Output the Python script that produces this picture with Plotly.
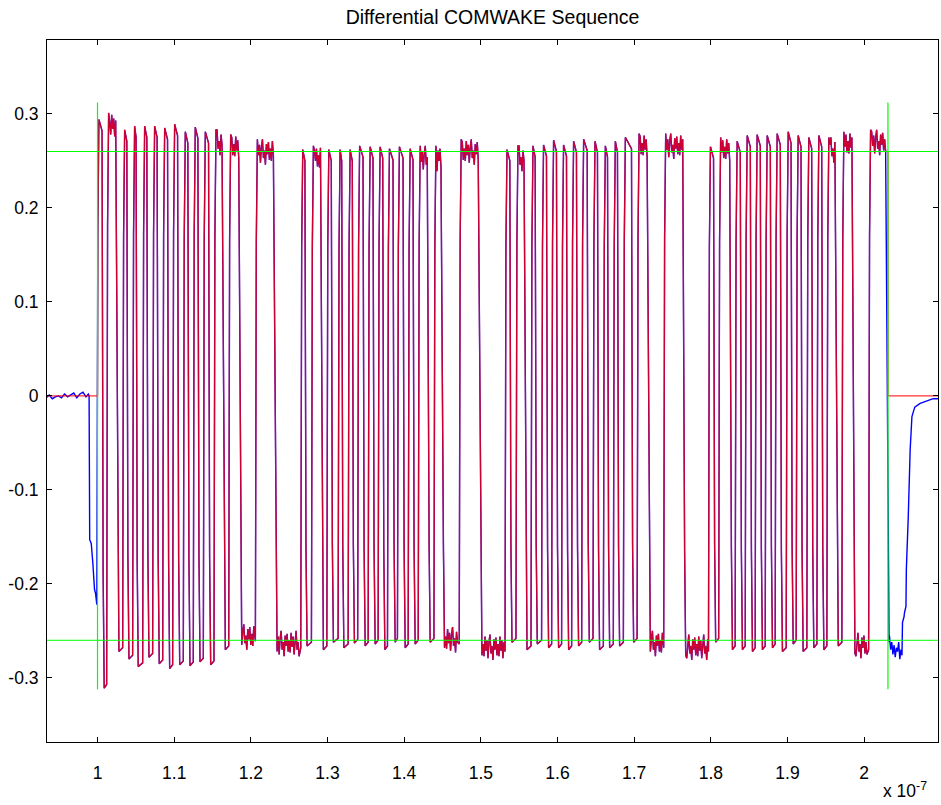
import plotly.graph_objects as go

# ---------------- data ----------------
# edge times in ns after 1.0e-7 s, alternating rise / fall, one pair per high pulse
edge_ns = [0.00, 0.69, 1.27, 2.61, 3.36, 3.92, 4.66, 5.13, 5.97, 6.53,
           7.27, 7.87, 8.58, 9.23, 9.88, 10.54, 11.27, 11.88, 12.57, 13.19,
           13.88, 14.58, 15.27, 16.49, 17.19, 18.63, 20.67, 23.24, 26.59, 27.15,
           27.98, 29.28, 29.99, 30.59, 31.46, 31.95, 32.77, 33.33, 34.01, 34.73,
           35.38, 36.03, 36.68, 37.30, 37.90, 38.64, 39.20, 39.95, 40.60, 41.25,
           41.91, 43.21, 43.96, 45.08, 47.26, 49.96, 53.23, 53.88, 54.66, 55.84,
           56.62, 57.18, 58.00, 58.66, 59.31, 59.96, 60.61, 61.27, 61.92, 62.57,
           63.23, 63.97, 64.71, 65.31, 66.06, 66.62, 67.36, 67.92, 68.67, 69.75,
           70.46, 71.93, 73.93, 76.54, 79.77, 80.45, 81.10, 82.64, 83.25, 83.94,
           84.56, 85.25, 85.86, 86.55, 87.17, 87.86, 88.47, 89.16, 89.91, 90.56,
           91.21, 91.86, 92.60, 93.25, 93.91, 94.56, 95.21, 96.44, 97.17, 98.61,
           100.66, 103.10]

# peak value of each high pulse
high_peak = [0.294, 0.301, 0.283, 0.287, 0.287, 0.287, 0.285, 0.289, 0.281, 0.286, 0.281, 0.283, 0.278, 0.273,
             0.262, 0.266, 0.262, 0.262, 0.262, 0.266, 0.265, 0.265, 0.263, 0.265, 0.263, 0.266, 0.266, 0.273,
             0.262, 0.266, 0.266, 0.267, 0.272, 0.267, 0.271, 0.273, 0.271, 0.266, 0.271, 0.275, 0.279, 0.279,
             0.265, 0.275, 0.271, 0.277, 0.278, 0.277, 0.279, 0.281, 0.277, 0.275, 0.277, 0.275, 0.281, 0.283]

# trough value of each low interval between pulses
low_trough = [-0.311, -0.272, -0.280, -0.288, -0.278, -0.285, -0.290, -0.286, -0.287, -0.283, -0.286, -0.270, -0.265, -0.272,
              -0.266, -0.270, -0.262, -0.268, -0.263, -0.266, -0.264, -0.270, -0.262, -0.268, -0.264, -0.262, -0.268, -0.276,
              -0.262, -0.270, -0.264, -0.268, -0.268, -0.270, -0.266, -0.262, -0.270, -0.268, -0.266, -0.262, -0.272, -0.276,
              -0.262, -0.270, -0.270, -0.272, -0.270, -0.268, -0.272, -0.264, -0.272, -0.268, -0.270, -0.266, -0.274]

# plateau ripple
ripple = [0.004, -0.009, 0.012, -0.003, 0.008, -0.011, 0.006, 0.014, -0.006, 0.002, -0.013, 0.009, -0.002, 0.011, -0.008]

# idle before the burst (measured trace)
pre_ns = [-6.70, -6.30, -5.90, -5.50, -5.10, -4.70, -4.30, -3.90, -3.50, -3.10, -2.70, -2.30, -1.90,
          -1.50, -1.20, -1.10, -1.02, -0.82, -0.61, -0.39, -0.26, -0.09]
pre_val = [-0.002, 0.001, -0.003, -0.001, 0.000, -0.002, 0.002, -0.001, 0.001, 0.003, -0.002, 0.002, 0.004,
           -0.001, 0.002, 0.000, -0.153, -0.157, -0.178, -0.206, -0.210, -0.222]

# idle after the burst (measured trace)
post_ns = [103.30, 103.45, 103.60, 103.75, 103.90, 104.05, 104.20, 104.35, 104.50, 104.65, 104.80, 104.93,
           105.00, 105.20, 105.25, 105.45, 105.50, 105.75, 106.00, 106.23, 106.60, 107.30, 108.00, 109.00, 109.70]
post_val = [-0.255, -0.270, -0.262, -0.275, -0.265, -0.278, -0.268, -0.272, -0.262, -0.280, -0.270, -0.276,
            -0.241, -0.235, -0.231, -0.224, -0.185, -0.129, -0.057, -0.022, -0.012, -0.008, -0.006, -0.003, -0.003]

threshold = 0.26           # green horizontal lines at +/- threshold
window_ns = [0.0, 103.10]   # green vertical markers
window_half = 0.312

x_tick_vals = [1.0, 1.1, 1.2, 1.3, 1.4, 1.5, 1.6, 1.7, 1.8, 1.9, 2.0]
x_tick_text = ["1", "1.1", "1.2", "1.3", "1.4", "1.5", "1.6", "1.7", "1.8", "1.9", "2"]
y_tick_vals = [-0.3, -0.2, -0.1, 0.0, 0.1, 0.2, 0.3]
y_tick_text = ["-0.3", "-0.2", "-0.1", "0", "0.1", "0.2", "0.3"]

X_MIN, X_MAX = 0.9341, 2.0963
Y_MIN, Y_MAX = -0.3682, 0.3786


def to_x(ns):
    return 1.0 + ns / 100.0


# ---------------- build burst waveform from the edge list ----------------
bx, by = [], []
n = len(high_peak)
k = 0
for i in range(n):
    r, f = edge_ns[2 * i], edge_ns[2 * i + 1]
    P = high_peak[i]
    if i > 0:
        bx.append(r - 0.08); by.append(low_trough[i - 1] + 0.004)
    bx += [r + 0.04, r + 0.18]; by += [0.6 * P, P]
    if f - r > 1.1:
        t = r + 0.32
        while t < f - 0.18:
            bx.append(t); by.append(P - 0.014 + ripple[k % len(ripple)]); k += 1
            t += 0.13
    else:
        bx.append(f - 0.10); by.append(P - 0.012)
    if i < n - 1:
        T = low_trough[i]
        bx += [f + 0.04, f + 0.18]; by += [0.6 * T, T]
        rn = edge_ns[2 * i + 2]
        if rn - f > 1.1:
            t = f + 0.32
            while t < rn - 0.18:
                bx.append(t); by.append(T + 0.008 + ripple[k % len(ripple)]); k += 1
                t += 0.13
last_f = edge_ns[-1]

blue_ns = pre_ns + bx + [last_f + 0.04, last_f + 0.15] + post_ns
blue_v = pre_val + by + [-0.16, -0.262] + post_val

red_ns = [pre_ns[0], 0.0] + bx + [last_f, last_f, post_ns[-1]]
red_v = [0.0, 0.0] + by + [by[-1], 0.0, 0.0]

fig = go.Figure()
fig.add_trace(go.Scatter(x=[to_x(v) for v in blue_ns], y=blue_v, mode="lines",
                         line=dict(color="#0000ff", width=1.4), hoverinfo="skip"))
fig.add_trace(go.Scatter(x=[to_x(v) for v in red_ns], y=red_v, mode="lines", opacity=0.8,
                         line=dict(color="#ff0000", width=1.3), hoverinfo="skip"))
# threshold lines
for lvl in (threshold, -threshold):
    fig.add_trace(go.Scatter(x=[X_MIN, X_MAX], y=[lvl, lvl], mode="lines",
                             line=dict(color="#00ff00", width=1), hoverinfo="skip"))
# window markers
for w in window_ns:
    fig.add_trace(go.Scatter(x=[to_x(w), to_x(w)], y=[-window_half, window_half], mode="lines",
                             line=dict(color="#00ff00", width=1.2), hoverinfo="skip"))

W, H = 941, 805
font_family = "Liberation Sans, Arial, Helvetica, sans-serif"
fig.update_layout(
    width=W, height=H,
    margin=dict(l=47, r=3, t=40, b=63),
    paper_bgcolor="white", plot_bgcolor="white",
    showlegend=False,
    font=dict(family=font_family, size=17, color="black"),
    title=dict(text="Differential COMWAKE Sequence", x=(47 + 891 / 2) / W, xanchor="center",
               y=1 - 17 / H, yanchor="middle", yref="container",
               font=dict(family=font_family, size=19.5, color="black")),
)
fig.update_xaxes(range=[X_MIN, X_MAX], showgrid=False, zeroline=False, automargin=False,
                 showline=True, linecolor="black", linewidth=1, mirror="ticks",
                 ticks="inside", ticklen=5, tickcolor="black",
                 tickfont=dict(size=17.5), tickangle=0,
                 tickvals=x_tick_vals, ticktext=x_tick_text, ticklabelstandoff=15)
fig.update_yaxes(range=[Y_MIN, Y_MAX], showgrid=False, zeroline=False, automargin=False,
                 showline=True, linecolor="black", linewidth=1, mirror="ticks",
                 ticks="inside", ticklen=5, tickcolor="black",
                 tickfont=dict(size=17.5),
                 tickvals=y_tick_vals, ticktext=y_tick_text, ticklabelstandoff=4)
fig.add_annotation(text="x 10<sup>-7</sup>", xref="paper", yref="paper",
                   x=(929 - 47) / 891, y=(742 - 790) / 702, xanchor="right", yanchor="middle",
                   showarrow=False, font=dict(family=font_family, size=17.5, color="black"))

# remove the default 8px page margin so the figure fills the window exactly
fig.write_html("out.html", config={"displayModeBar": False},
               post_script="document.body.style.margin='0px';document.body.style.overflow='hidden';")
